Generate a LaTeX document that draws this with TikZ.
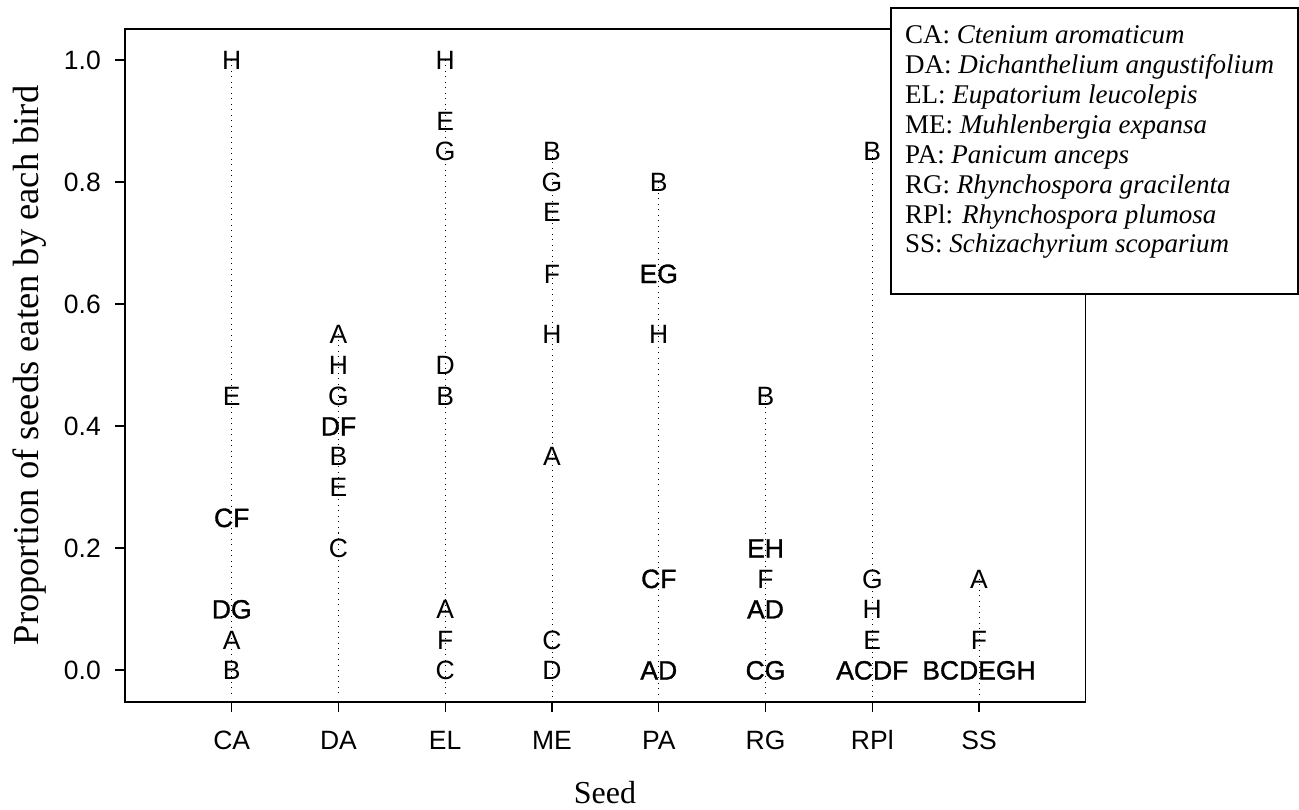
\documentclass[tikz,border=0pt]{standalone}
\usepackage{fontspec}
\setmainfont{Liberation Serif}
\newfontfamily\arialf{Liberation Sans}
\newfontfamily\arialbf{Liberation Sans}[FakeBold=1.2]
\begin{document}
\begin{tikzpicture}[x=1pt,y=-1pt,
  pl/.style={font=\fontsize{26.5}{30}\selectfont\arialf, inner sep=0pt, text height=19pt, text depth=0pt},
  plb/.style={font=\fontsize{26.5}{30}\selectfont\arialbf, inner sep=0pt, text height=19pt, text depth=0pt},
  ticklab/.style={font=\fontsize{26.5}{30}\selectfont\arialf, inner sep=0pt, text height=19pt, text depth=0pt},
  leg/.style={font=\fontsize{27}{30}\selectfont, inner sep=0pt, anchor=base west},
  axlab/.style={font=\fontsize{32}{36}\selectfont, inner sep=0pt, anchor=base},
  ylabst/.style={font=\fontsize{36.5}{40}\selectfont, inner sep=0pt, anchor=base},
  dots/.style={line width=1pt, dash pattern=on 1pt off 4.5pt},
  frame/.style={line width=1.3pt},
  tick/.style={line width=1.3pt}
]
\useasboundingbox (0,0) rectangle (1299,810);
\newcommand\lab[4]{\node[pl] (#1) at (#2,{670-610*#3}) {#4};}
\newcommand\labb[4]{\node[plb] (#1) at (#2,{670-610*#3}) {#4};}
\newcommand\stem[2]{\draw[dots] (#1,{670-610*#2}) -- (#1,697);}
% frame
\draw[frame] (125,29) rectangle (1085.5,702);
% y ticks
\foreach \v/\t in {0/0.0,0.2/0.2,0.4/0.4,0.6/0.6,0.8/0.8,1/1.0}{
  \draw[tick] (115,{670-610*\v}) -- (125,{670-610*\v});
  \node[ticklab, anchor=east] (yt\t) at (101,{670-610*\v}) {\t};
}
% x ticks
\foreach \x in {231.7,338.5,445.2,552,658.8,765.5,872.3,979}{
  \draw[tick] (\x,702) -- (\x,712);
}
\node[ticklab] (xtCA) at (231.7,739.5) {CA};
\node[ticklab] (xtDA) at (338.5,739.5) {DA};
\node[ticklab] (xtEL) at (445.2,739.5) {EL};
\node[ticklab] (xtME) at (552,739.5) {ME};
\node[ticklab] (xtPA) at (658.8,739.5) {PA};
\node[ticklab] (xtRG) at (765.5,739.5) {RG};
\node[ticklab] (xtRPl) at (872.3,739.5) {RPl};
\node[ticklab] (xtSS) at (979,739.5) {SS};
% stems
\stem{231.7}{1}
\stem{338.5}{0.55}
\stem{445.2}{1}
\stem{552}{0.85}
\stem{658.8}{0.8}
\stem{765.5}{0.45}
\stem{872.3}{0.85}
\stem{979}{0.15}
% CA
\lab{caH}{231.7}{1}{H}
\lab{caE}{231.7}{0.45}{E}
\labb{caCF}{231.7}{0.25}{CF}
\labb{caDG}{231.7}{0.10}{DG}
\lab{caA}{231.7}{0.05}{A}
\lab{caB}{231.7}{0}{B}
% DA
\lab{daA}{338.5}{0.55}{A}
\lab{daH}{338.5}{0.50}{H}
\lab{daG}{338.5}{0.45}{G}
\labb{daDF}{338.5}{0.40}{DF}
\lab{daB}{338.5}{0.35}{B}
\lab{daE}{338.5}{0.30}{E}
\lab{daC}{338.5}{0.20}{C}
% EL
\lab{elH}{445.2}{1}{H}
\lab{elE}{445.2}{0.90}{E}
\lab{elG}{445.2}{0.85}{G}
\lab{elD}{445.2}{0.50}{D}
\lab{elB}{445.2}{0.45}{B}
\lab{elA}{445.2}{0.10}{A}
\lab{elF}{445.2}{0.05}{F}
\lab{elC}{445.2}{0}{C}
% ME
\lab{meB}{552}{0.85}{B}
\lab{meG}{552}{0.80}{G}
\lab{meE}{552}{0.75}{E}
\lab{meF}{552}{0.65}{F}
\lab{meH}{552}{0.55}{H}
\lab{meA}{552}{0.35}{A}
\lab{meC}{552}{0.05}{C}
\lab{meD}{552}{0}{D}
% PA
\lab{paB}{658.8}{0.80}{B}
\labb{paEG}{658.8}{0.65}{EG}
\lab{paH}{658.8}{0.55}{H}
\labb{paCF}{658.8}{0.15}{CF}
\labb{paAD}{658.8}{0}{AD}
% RG
\lab{rgB}{765.5}{0.45}{B}
\labb{rgEH}{765.5}{0.20}{EH}
\lab{rgF}{765.5}{0.15}{F}
\labb{rgAD}{765.5}{0.10}{AD}
\labb{rgCG}{765.5}{0}{CG}
% RPl
\lab{rpB}{872.3}{0.85}{B}
\lab{rpG}{872.3}{0.15}{G}
\lab{rpH}{872.3}{0.10}{H}
\lab{rpE}{872.3}{0.05}{E}
\labb{rpACDF}{872.3}{0}{ACDF}
% SS
\lab{ssA}{979}{0.15}{A}
\lab{ssF}{979}{0.05}{F}
\labb{ssBCDEGH}{979}{0}{BCDEGH}
% axis labels
\node[ylabst, rotate=90] (ylab) at (38,365.5) {Proportion of seeds eaten by each bird};
\node[axlab] (xlab) at (605,803) {Seed};
% legend
\draw[line width=2pt, fill=white] (890.7,8) rectangle (1297.5,294);
\node[leg] (l1) at (905,44) {CA: \textit{Ctenium aromaticum}};
\node[leg] (l2) at (905,73.9) {DA: \textit{Dichanthelium angustifolium}};
\node[leg] (l3) at (905,103.7) {EL: \textit{Eupatorium leucolepis}};
\node[leg] (l4) at (905,133.6) {ME: \textit{Muhlenbergia expansa}};
\node[leg] (l5) at (905,163.4) {PA: \textit{Panicum anceps}};
\node[leg] (l6) at (905,193.3) {RG: \textit{Rhynchospora gracilenta}};
\node[leg] (l7) at (905,223.2) {RPl: \textit{Rhynchospora plumosa}};
\node[leg] (l8) at (905,253) {SS: \textit{Schizachyrium scoparium}};
\end{tikzpicture}
\end{document}
